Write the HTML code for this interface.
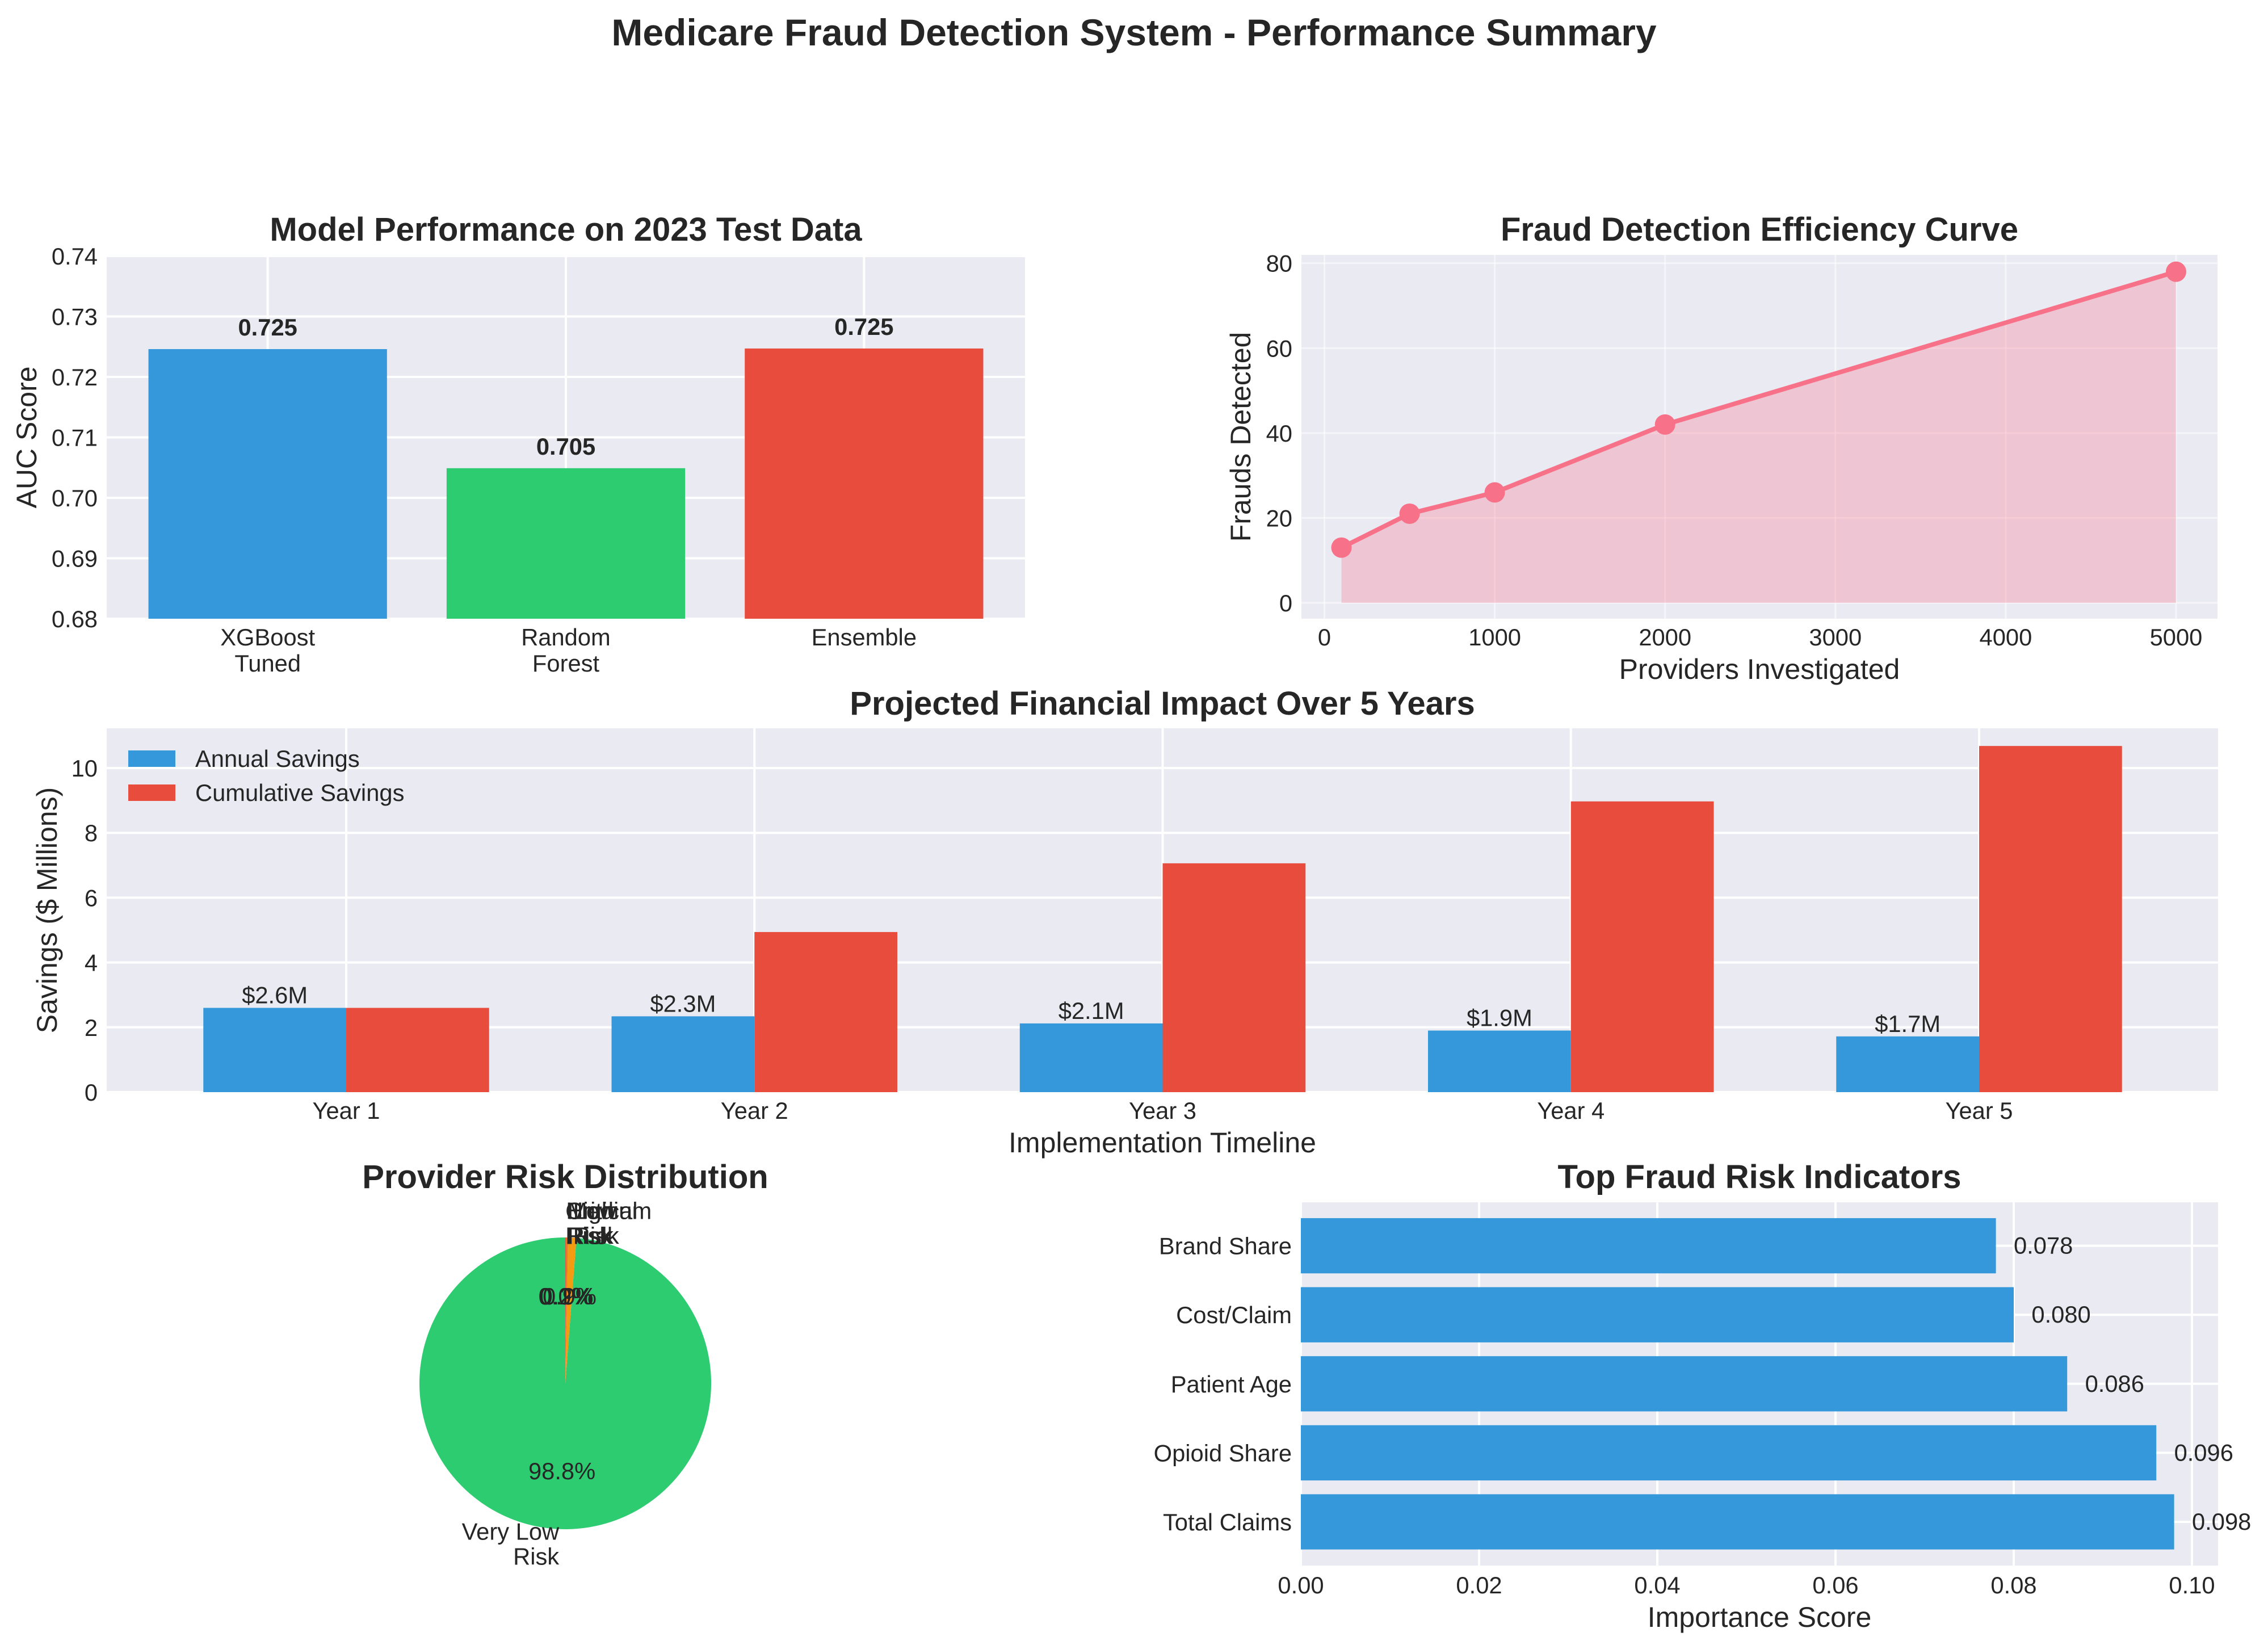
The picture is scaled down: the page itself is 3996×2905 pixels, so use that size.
<!DOCTYPE html>
<html><head><meta charset="utf-8"><style>
html,body{margin:0;padding:0;background:#fff;}
svg{display:block;font-family:"Liberation Sans",Arial,sans-serif;}
</style></head><body>
<svg id="fig" width="3996" height="2905" viewBox="0 0 3996 2905" xmlns="http://www.w3.org/2000/svg">
<text x="1998" y="80" text-anchor="middle" font-size="66" font-weight="bold" fill="#262626">Medicare Fraud Detection System - Performance Summary</text>
</svg>
<script>
// ---- Data ----
const modelNames = [["XGBoost","Tuned"],["Random","Forest"],["Ensemble"]];
const modelAUC = [0.7246, 0.7049, 0.7247];
const modelAUCLabels = ["0.725","0.705","0.725"];
const aucTicks = [0.68,0.69,0.70,0.71,0.72,0.73,0.74];
const aucTickLabels = ["0.68","0.69","0.70","0.71","0.72","0.73","0.74"];

const providersInvestigated = [100, 500, 1000, 2000, 5000];
const fraudsDetected = [13, 21, 26, 42, 78];
const effXTicks = [0,1000,2000,3000,4000,5000];
const effYTicks = [0,20,40,60,80];

const years = ["Year 1","Year 2","Year 3","Year 4","Year 5"];
const annualSavings = [2.6, 2.34, 2.12, 1.9, 1.72];
const cumulativeSavings = [2.6, 4.94, 7.06, 8.97, 10.68];
const annualLabels = ["$2.6M","$2.3M","$2.1M","$1.9M","$1.7M"];
const savingsTicks = [0,2,4,6,8,10];

const riskLabels = [["Very Low","Risk"],["Low","Risk"],["Medium","Risk"],["High","Risk"],["Critical","Risk"]];
const riskShares = [98.8, 0.9, 0.2, 0.1, 0.02];
const riskPctLabels = ["98.8%","0.9%","0.2%","0.1%","0.0%"];
const riskColors = ["#2ecc71","#f39c12","#e67e22","#e74c3c","#c0392b"];

const featureNames = ["Total Claims","Opioid Share","Patient Age","Cost/Claim","Brand Share"];
const featureImportance = [0.098, 0.096, 0.086, 0.080, 0.078];
const featureLabels = ["0.098","0.096","0.086","0.080","0.078"];
const featTicks = [0,0.02,0.04,0.06,0.08,0.10];
const featTickLabels = ["0.00","0.02","0.04","0.06","0.08","0.10"];

// ---- Helpers ----
const NS="http://www.w3.org/2000/svg";
const svg=document.getElementById('fig');
function el(tag, attrs, parent){const e=document.createElementNS(NS,tag);for(const k in attrs)e.setAttribute(k,attrs[k]);(parent||svg).appendChild(e);return e;}
function txt(x,y,s,size,anchor,extra,parent){const t=el('text',Object.assign({x:x,y:y,'font-size':size,'text-anchor':anchor||'middle',fill:'#262626'},extra||{}),parent);t.textContent=s;return t;}
function lin(d0,d1,r0,r1){return v=>r0+(v-d0)*(r1-r0)/(d1-d0);}
const BG="#eaeaf2", TICK=41.7, LAB=50, TTL=58;

// ================= Panel 1: Model performance =================
(function(){
  const L=188,R=1806,T=451,B=1090;
  const x=lin(-0.54,2.54,L,R), y=lin(0.68,0.74,B,T);
  const g=el('g',{});
  
  
  el('rect',{x:L,y:T,width:R-L,height:B-T,fill:BG},g);
  aucTicks.forEach((v,i)=>{
    const l=el('line',{x1:L,x2:R,y1:y(v),y2:y(v),stroke:'#fff','stroke-width':4},g);
    
    
    const t=txt(L-16,y(v)+15,aucTickLabels[i],TICK,'end',{},g);
    
    
  });
  modelNames.forEach((n,i)=>{
    el('line',{x1:x(i),x2:x(i),y1:T,y2:B,stroke:'#fff','stroke-width':4},g);
  });
  modelAUC.forEach((v,i)=>{
    const c=["#3498db","#2ecc71","#e74c3c"][i];
    const r=el('rect',{x:x(i-0.4),y:y(v),width:x(i+0.4)-x(i-0.4),height:B-y(v),fill:c},g);
    
    
    const t=txt(x(i),y(v)-24,modelAUCLabels[i],41.7,'middle',{'font-weight':'bold'},g);
    
    
    modelNames[i].forEach((line,j)=>{
      const tl=txt(x(i),1137+j*46,line,TICK,'middle',{},g);
      
      
    });
  });
  const yl=txt(0,0,'AUC Score',LAB,'middle',{transform:'translate(64,'+((T+B)/2)+') rotate(-90)'},g);
  
  
  const tt=txt((L+R)/2,424,'Model Performance on 2023 Test Data',TTL,'middle',{'font-weight':'bold'},g);
  
  
})();

// ================= Panel 2: Efficiency curve =================
(function(){
  const L=2293,R=3907,T=449,B=1090;
  const x=lin(0,5000,2333.5,3834), y=lin(0,80,1062,463.7);
  const g=el('g',{});
  
  
  el('rect',{x:L,y:T,width:R-L,height:B-T,fill:BG},g);
  effXTicks.forEach(v=>{
    el('line',{x1:x(v),x2:x(v),y1:T,y2:B,stroke:'#fff','stroke-width':3,'stroke-opacity':0.5},g);
    const t=txt(x(v),1137,String(v),TICK,'middle',{},g);
    
    
  });
  effYTicks.forEach(v=>{
    el('line',{x1:L,x2:R,y1:y(v),y2:y(v),stroke:'#fff','stroke-width':3,'stroke-opacity':0.5},g);
    const t=txt(L-16,y(v)+15,String(v),TICK,'end',{},g);
    
    
  });
  let d='M'+x(providersInvestigated[0])+','+y(0);
  providersInvestigated.forEach((p,i)=>{d+=' L'+x(p)+','+y(fraudsDetected[i]);});
  d+=' L'+x(providersInvestigated[providersInvestigated.length-1])+','+y(0)+' Z';
  const a=el('path',{d:d,fill:'#f77189','fill-opacity':0.3},g);
  
  
  const pts=providersInvestigated.map((p,i)=>x(p)+','+y(fraudsDetected[i])).join(' ');
  const pl=el('polyline',{points:pts,fill:'none',stroke:'#f77189','stroke-width':8},g);
  
  
  providersInvestigated.forEach((p,i)=>{
    const c=el('circle',{cx:x(p),cy:y(fraudsDetected[i]),r:18,fill:'#f77189'},g);
    
    
  });
  const xl=txt((L+R)/2,1196,'Providers Investigated',LAB,'middle',{},g);
  
  
  const yl=txt(0,0,'Frauds Detected',LAB,'middle',{transform:'translate(2203,'+((T+B)/2)+') rotate(-90)'},g);
  
  
  const tt=txt((L+R)/2,424,'Fraud Detection Efficiency Curve',TTL,'middle',{'font-weight':'bold'},g);
  
  
})();

// ================= Panel 3: Financial impact =================
(function(){
  const L=188,R=3908,T=1283,B=1924;
  const x=lin(0,4,610,3487), y=lin(0,10,1924,1353);
  const w=x(0.35)-x(0);
  const g=el('g',{});
  
  
  el('rect',{x:L,y:T,width:R-L,height:B-T,fill:BG},g);
  savingsTicks.forEach(v=>{
    el('line',{x1:L,x2:R,y1:y(v),y2:y(v),stroke:'#fff','stroke-width':4},g);
    const t=txt(L-16,y(v)+15,String(v),TICK,'end',{},g);
    
    
  });
  years.forEach((yr,i)=>{
    el('line',{x1:x(i),x2:x(i),y1:T,y2:B,stroke:'#fff','stroke-width':4},g);
    const t=txt(x(i),1971,yr,TICK,'middle',{},g);
    
    
  });
  annualSavings.forEach((v,i)=>{
    const r=el('rect',{x:x(i)-w,y:y(v),width:w,height:B-y(v),fill:'#3498db'},g);
    
    
    const t=txt(x(i)-w/2,y(v)-8,annualLabels[i],41.7,'middle',{},g);
    
    
  });
  cumulativeSavings.forEach((v,i)=>{
    const r=el('rect',{x:x(i),y:y(v),width:w,height:B-y(v),fill:'#e74c3c'},g);
    
    
  });
  const lg=el('g',{},g);
  
  
  const p1=el('rect',{x:226,y:1322,width:83,height:29,fill:'#3498db'},lg);
  
  
  const l1=txt(344,1351,'Annual Savings',41.7,'start',{},lg);
  
  
  const p2=el('rect',{x:226,y:1382,width:83,height:29,fill:'#e74c3c'},lg);
  
  
  const l2=txt(344,1411,'Cumulative Savings',41.7,'start',{},lg);
  
  
  const xl=txt((L+R)/2,2030,'Implementation Timeline',LAB,'middle',{},g);
  
  
  const yl=txt(0,0,'Savings ($ Millions)',LAB,'middle',{transform:'translate(100,'+((T+B)/2)+') rotate(-90)'},g);
  
  
  const tt=txt((L+R)/2,1259,'Projected Financial Impact Over 5 Years',TTL,'middle',{'font-weight':'bold'},g);
  
  
})();

// ================= Panel 4: Risk distribution pie =================
(function(){
  const cx=996, cy=2437, R=257;
  const g=el('g',{});
  
  
  const total=riskShares.reduce((a,b)=>a+b,0);
  let ang=90;
  const labelsG=el('g',{});
  riskShares.forEach((v,i)=>{
    const sweep=v/total*360;
    const a0=ang*Math.PI/180, a1=(ang+sweep)*Math.PI/180;
    const x0=cx+R*Math.cos(a0), y0=cy-R*Math.sin(a0);
    const x1=cx+R*Math.cos(a1), y1=cy-R*Math.sin(a1);
    const large=sweep>180?1:0;
    const p=el('path',{d:`M${cx},${cy} L${x0},${y0} A${R},${R} 0 ${large} 0 ${x1},${y1} Z`,fill:riskColors[i]},g);
    
    
    const mid=(ang+sweep/2)*Math.PI/180;
    const lx=cx+1.1*R*Math.cos(mid), ly=cy-1.1*R*Math.sin(mid);
    const anchor=Math.cos(mid)>=0?'start':'end';
    const lines=riskLabels[i];
    lines.forEach((s,j)=>{
      const t=txt(lx,ly+15+(j-(lines.length-1)/2)*44,s,41.7,anchor,{},labelsG);
      
      
    });
    const px=cx+0.6*R*Math.cos(mid), py=cy-0.6*R*Math.sin(mid);
    const pt=txt(px,py+15,riskPctLabels[i],41.7,'middle',{},labelsG);
    
    
    ang+=sweep;
  });
  svg.appendChild(labelsG);
  const tt=txt(cx,2093,'Provider Risk Distribution',TTL,'middle',{'font-weight':'bold'});
  
  
})();

// ================= Panel 5: Feature importance =================
(function(){
  const L=2292,R=3908,T=2118,B=2758;
  const x=lin(0,0.10,2292,3862), y=lin(0,4,2681,2194.6);
  const h=(y(0)-y(1))*0.8;
  const g=el('g',{});
  
  
  el('rect',{x:L,y:T,width:R-L,height:B-T,fill:BG},g);
  featTicks.forEach((v,i)=>{
    el('line',{x1:x(v),x2:x(v),y1:T,y2:B,stroke:'#fff','stroke-width':4},g);
    const t=txt(x(v),2807,featTickLabels[i],TICK,'middle',{},g);
    
    
  });
  featureNames.forEach((n,i)=>{
    el('line',{x1:L,x2:R,y1:y(i),y2:y(i),stroke:'#fff','stroke-width':4},g);
  });
  featureImportance.forEach((v,i)=>{
    const r=el('rect',{x:x(0),y:y(i)-h/2,width:x(v)-x(0),height:h,fill:'#3498db'},g);
    
    
    const t=txt(x(v+0.002),y(i)+14,featureLabels[i],41.7,'start',{},g);
    
    
    const yl=txt(L-16,y(i)+15,featureNames[i],TICK,'end',{},g);
    
    
  });
  const xl=txt((L+R)/2,2866,'Importance Score',LAB,'middle',{},g);
  
  
  const tt=txt((L+R)/2,2093,'Top Fraud Risk Indicators',TTL,'middle',{'font-weight':'bold'},g);
  
  
})();
</script>
</body></html>
